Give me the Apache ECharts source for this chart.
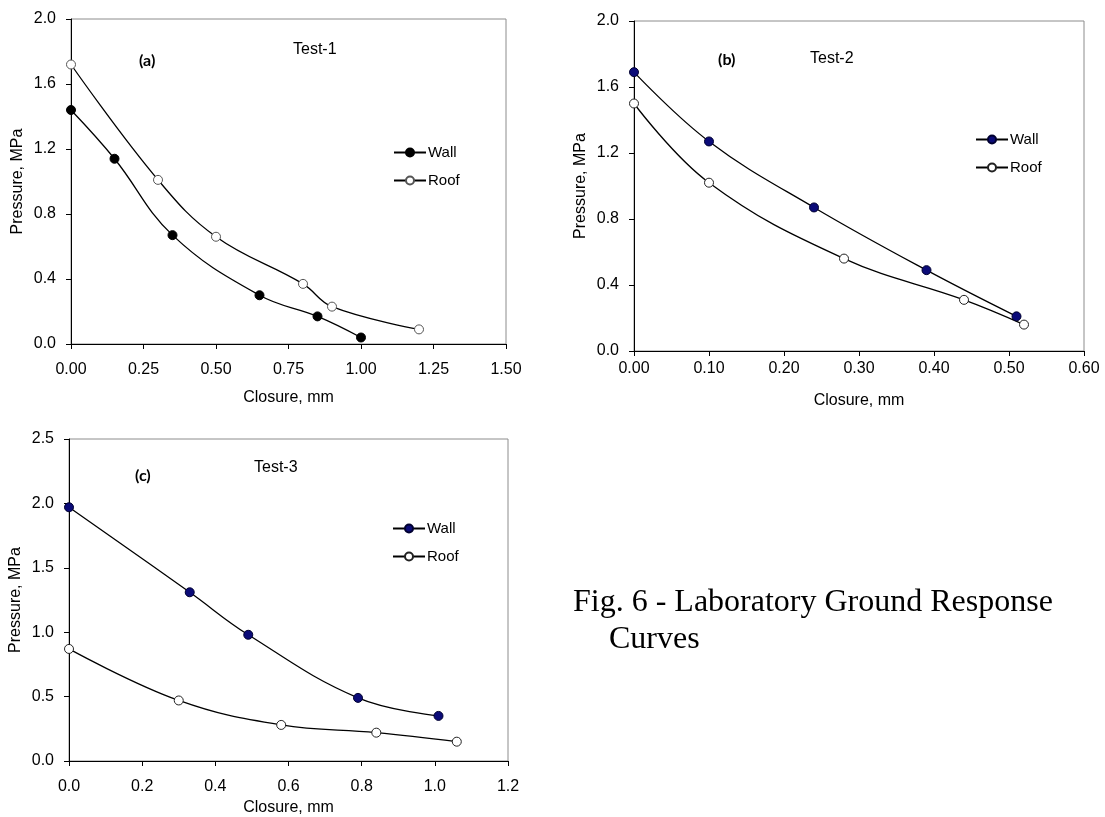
<!DOCTYPE html>
<html>
  <head>
    <meta charset="utf-8" />
    <title>Laboratory Ground Response Curves</title>
    <script src="https://cdn.jsdelivr.net/npm/echarts@6.0.0/dist/echarts.min.js"></script>
    <style>
      html, body { margin: 0; padding: 0; background: #fff; }
      #chart { width: 1105px; height: 817px; }
    </style>
  </head>
  <body>
    <div id="chart"></div>
    <script type="text/javascript">
      // closure (mm) and pressure (MPa)
      const wallA = [[0, 1.44], [0.15, 1.14], [0.35, 0.67], [0.65, 0.30], [0.85, 0.17], [1.00, 0.04]];
      const roofA = [[0, 1.72], [0.30, 1.01], [0.50, 0.66], [0.80, 0.37], [0.90, 0.23], [1.20, 0.09]];
      const wallB = [[0, 1.69], [0.10, 1.27], [0.24, 0.87], [0.39, 0.49], [0.51, 0.21]];
      const roofB = [[0, 1.50], [0.10, 1.02], [0.28, 0.56], [0.44, 0.31], [0.52, 0.16]];
      const wallC = [[0, 1.97], [0.33, 1.31], [0.49, 0.98], [0.79, 0.49], [1.01, 0.35]];
      const roofC = [[0, 0.87], [0.30, 0.47], [0.58, 0.28], [0.84, 0.22], [1.06, 0.15]];

      const xTicksA = { min: 0, max: 1.5, interval: 0.25, digits: 2 };
      const xTicksB = { min: 0, max: 0.6, interval: 0.1, digits: 2 };
      const xTicksC = { min: 0, max: 1.2, interval: 0.2, digits: 1 };
      const yTicksA = { min: 0, max: 2.0, interval: 0.4 };
      const yTicksB = { min: 0, max: 2.0, interval: 0.4 };
      const yTicksC = { min: 0, max: 2.5, interval: 0.5 };

      const font = 'Arial, "Liberation Sans", sans-serif';
      const tagFont = 'Lato, "Open Sans", sans-serif';
      const serif = '"Liberation Serif", "Times New Roman", serif';
      const navy = '#0b0b78';

      function xAxis(idx, t, nameGap, labelMargin) {
        return {
          gridIndex: idx, type: 'value', min: t.min, max: t.max, interval: t.interval,
          name: 'Closure, mm', nameLocation: 'middle', nameGap: nameGap,
          nameTextStyle: { fontFamily: font, fontSize: 16, color: '#000' },
          axisLine: { show: true, onZero: false, lineStyle: { color: '#000', width: 1 } },
          axisTick: { show: true, inside: false, length: 5, lineStyle: { color: '#000' } },
          axisLabel: { margin: labelMargin, fontFamily: font, fontSize: 16, color: '#000',
            formatter: v => v.toFixed(t.digits) },
          splitLine: { show: false }
        };
      }

      function yAxis(idx, t) {
        return {
          gridIndex: idx, type: 'value', min: t.min, max: t.max, interval: t.interval,
          name: 'Pressure, MPa', nameLocation: 'middle', nameGap: 45,
          nameTextStyle: { fontFamily: font, fontSize: 16, color: '#000' },
          axisLine: { show: true, onZero: false, lineStyle: { color: '#000', width: 1 } },
          axisTick: { show: true, inside: false, length: 5, lineStyle: { color: '#000' } },
          axisLabel: { margin: 15, fontFamily: font, fontSize: 16, color: '#000',
            formatter: v => v.toFixed(1) },
          splitLine: { show: false }
        };
      }

      function curve(name, idx, data, fill, border) {
        return {
          name: name, type: 'line', xAxisIndex: idx, yAxisIndex: idx, data: data,
          smooth: 0.4, symbol: 'circle', symbolSize: 9, showSymbol: true,
          lineStyle: { color: '#000', width: 1.3 },
          itemStyle: { color: fill, borderColor: border, borderWidth: 1 },
          emphasis: { disabled: true }, z: 3
        };
      }

      function legend(names, left, top) {
        return {
          data: names, left: left, top: top, orient: 'vertical', padding: 0,
          itemWidth: 32, itemHeight: 10, itemGap: 13, selectedMode: false,
          textStyle: { fontFamily: font, fontSize: 15, color: '#000', padding: [0, 0, 0, -3] },
          formatter: n => n.split(' ')[0]
        };
      }

      function label(text, x, y, size, family, weight) {
        return { type: 'text', left: x, top: y,
          style: { text: text, fontFamily: family || font, fontSize: size || 16,
            fontWeight: weight || 'normal', fill: '#000' } };
      }

      const chart = echarts.init(document.getElementById('chart'), null, { renderer: 'canvas' });
      chart.setOption({
        animation: false,
        backgroundColor: '#fff',
        grid: [
          { left: 71, top: 19, width: 435, height: 325 },
          { left: 634, top: 21, width: 450, height: 330 },
          { left: 69, top: 439, width: 439, height: 322 }
        ].map(g => Object.assign(g, { show: true, borderColor: '#8c8c8c', borderWidth: 1 })),
        xAxis: [xAxis(0, xTicksA, 46, 18), xAxis(1, xTicksB, 42, 10), xAxis(2, xTicksC, 39, 18)],
        yAxis: [yAxis(0, yTicksA), yAxis(1, yTicksB), yAxis(2, yTicksC)],
        legend: [
          legend(['Wall (a)', 'Roof (a)'], 393, 145),
          legend(['Wall (b)', 'Roof (b)'], 975, 132),
          legend(['Wall (c)', 'Roof (c)'], 392, 521)
        ],
        series: [
          curve('Wall (a)', 0, wallA, '#000', '#000'),
          curve('Roof (a)', 0, roofA, '#fff', '#555'),
          curve('Wall (b)', 1, wallB, navy, '#000030'),
          curve('Roof (b)', 1, roofB, '#fff', '#222'),
          curve('Wall (c)', 2, wallC, navy, '#000030'),
          curve('Roof (c)', 2, roofC, '#fff', '#222')
        ],
        graphic: [
          label('(a)', 139, 53, 16, tagFont, 'bold'),
          label('Test-1', 293, 42),
          label('(b)', 718, 52, 16, tagFont, 'bold'),
          label('Test-2', 810, 51),
          label('(c)', 135, 468, 16, tagFont, 'bold'),
          label('Test-3', 254, 460),
          label('Fig. 6 - Laboratory Ground Response', 573, 587, 32, serif),
          label('Curves', 609, 624, 32, serif)
        ]
      });
    </script>
  </body>
</html>
